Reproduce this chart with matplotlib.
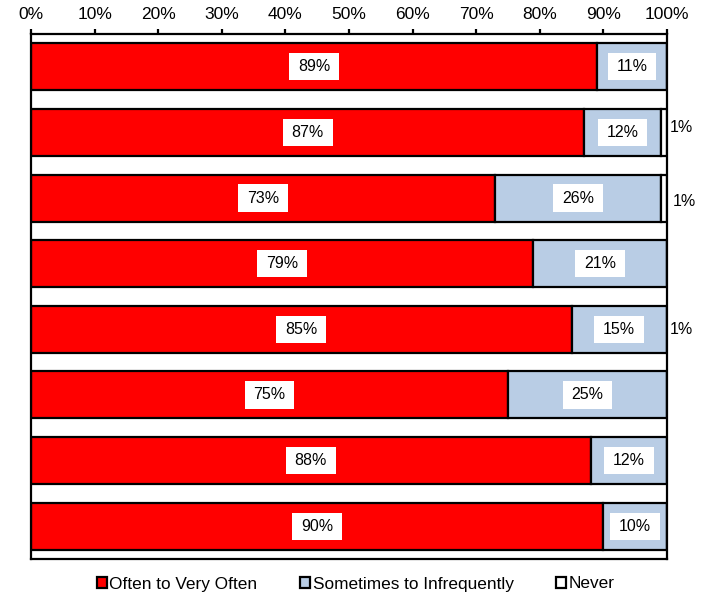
import matplotlib
matplotlib.use("Agg")
import matplotlib.pyplot as plt
from matplotlib.patches import Patch
from matplotlib.path import Path
import numpy as np

plt.rcParams['font.family'] = ['Liberation Sans', 'DejaVu Sans']

series_names = ["Often to Very Often", "Sometimes to Infrequently", "Never"]
often = [89, 87, 73, 79, 85, 75, 88, 90]
sometimes = [11, 12, 26, 21, 15, 25, 12, 10]
never = [0, 1, 1, 0, 1, 0, 0, 0]
tick_labels = [f"{v}%" for v in range(0, 101, 10)]

colors = ["#FF0000", "#B9CDE5", "#FFFFFF"]

fig = plt.figure(figsize=(7.07, 5.94), dpi=100)
ax = fig.add_axes([31/707, 1-559/594, (667-31)/707, (559-34)/594])

y = np.arange(len(often))
h = 0.715
left = np.zeros(len(often))
for vals, c in zip([often, sometimes, never], colors):
    ax.barh(y, vals, left=left, height=h, color=c, edgecolor="black", linewidth=1.6, zorder=2)
    left = left + np.array(vals)


def label_box(x0, y0, width, height, mutation_size):
    px = 0.55 * mutation_size
    py = 0.38 * mutation_size
    x0, y0 = x0 - px, y0 - py
    x1, y1 = x0 + width + 2 * px, y0 + height + 2 * py
    return Path([(x0, y0), (x1, y0), (x1, y1), (x0, y1), (x0, y0)],
                [Path.MOVETO, Path.LINETO, Path.LINETO, Path.LINETO, Path.CLOSEPOLY])


box = dict(boxstyle=label_box, facecolor="white", edgecolor="none")
fs = 11.5
for i in range(len(often)):
    ax.text(often[i]/2, y[i], f"{often[i]}%", ha="center", va="center", fontsize=fs, bbox=box, zorder=3)
    ax.text(often[i] + sometimes[i]/2, y[i], f"{sometimes[i]}%", ha="center", va="center", fontsize=fs, bbox=box, zorder=3)

# outside labels for "Never"
never_dx = {1: 0.4, 2: 0.9, 4: 0.4}
never_dy = {1: -0.08, 2: 0.06, 4: 0.0}
for i in range(len(never)):
    if never[i] > 0:
        ax.text(100 + never_dx.get(i, 0.4), y[i] + never_dy.get(i, 0), f"{never[i]}%",
                ha="left", va="center", fontsize=fs, clip_on=False)

ax.set_xlim(0, 100)
ax.set_ylim(len(often) - 0.5, -0.5)
ax.xaxis.tick_top()
ax.set_xticks(range(0, 101, 10))
ax.set_xticklabels(tick_labels, fontsize=12.5)
ax.tick_params(axis="x", direction="out", length=3.5, width=1.6, pad=5)
ax.set_yticks([])
for s in ax.spines.values():
    s.set_linewidth(1.6)
    s.set_color("black")

handles = [Patch(facecolor=c, edgecolor="black", linewidth=1.6) for c in colors]
fig.legend(handles, series_names, loc="center", bbox_to_anchor=(0.503, 1-584/594), ncol=3,
           frameon=False, fontsize=12.4, handlelength=0.6, handleheight=0.6,
           handletextpad=0.15, columnspacing=2.45)

fig.savefig("out.png", dpi=100)
